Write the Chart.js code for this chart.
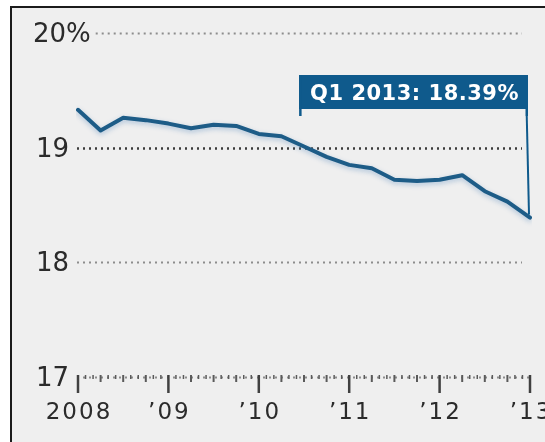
<!DOCTYPE html>
<html>
<head>
<meta charset="utf-8">
<script src="https://cdn.jsdelivr.net/npm/chart.js@4.4.1/dist/chart.umd.min.js"></script>
<style>
  html, body { margin: 0; padding: 0; background: #ffffff; }
  #frame { position: absolute; left: 10px; top: 6px; width: 535px; height: 436px; box-sizing: border-box;
           border-left: 2px solid #1b1b1b; border-top: 2px solid #1b1b1b; background: #efefef; }
  #c { position: absolute; left: 0; top: 0; }
</style>
</head>
<body>
<div id="frame"></div>
<canvas id="c" width="545" height="442"></canvas>
<script>
// ---- data ----
const quarters = ['Q1 2008','Q2 2008','Q3 2008','Q4 2008',
                  'Q1 2009','Q2 2009','Q3 2009','Q4 2009',
                  'Q1 2010','Q2 2010','Q3 2010','Q4 2010',
                  'Q1 2011','Q2 2011','Q3 2011','Q4 2011',
                  'Q1 2012','Q2 2012','Q3 2012','Q4 2012',
                  'Q1 2013'];
const rates = [19.33, 19.15, 19.26, 19.24,
               19.21, 19.17, 19.20, 19.19,
               19.12, 19.10, 19.01, 18.92,
               18.85, 18.82, 18.72, 18.71,
               18.72, 18.76, 18.62, 18.53,
               18.39];
const yearQuarters = ['Q1 2008','Q1 2009','Q1 2010','Q1 2011','Q1 2012','Q1 2013'];
const yearLabels = ['2008', '\u201909', '\u201910', '\u201911', '\u201912', '\u201913'];
const yTickValues = [17, 18, 19, 20];
const yTickLabels = ['17', '18', '19', '20%'];

const FONT = '"DejaVu Sans", "Liberation Sans", sans-serif';

const axisPlugin = {
  id: 'axisPlugin',
  beforeDatasetsDraw(chart) {
    const ctx = chart.ctx, ca = chart.chartArea;
    const xs = chart.scales.x, ys = chart.scales.y;
    ctx.save();
    // y labels + dotted grid lines
    ctx.font = '26px ' + FONT;
    ctx.textBaseline = 'alphabetic';
    ctx.textAlign = 'left';
    yTickValues.forEach((v, i) => {
      const y = ys.getPixelForValue(v);
      const lab = yTickLabels[i];
      const numW = ctx.measureText(lab.replace('%', '')).width;
      const x0 = ca.left - 9 - numW - (lab.indexOf('%') >= 0 ? 3 : 0);
      ctx.fillStyle = '#2b2b2b';
      ctx.fillText(lab, x0, y + 9);
      const labEnd = x0 + ctx.measureText(lab).width;
      const gx0 = Math.max(ca.left - 1, labEnd + 5);
      ctx.beginPath();
      ctx.setLineDash([2, 4]);
      ctx.lineWidth = v === 19 ? 2.6 : 2;
      ctx.strokeStyle = v === 19 ? '#3c3c3c' : '#8d8d8d';
      const gx1 = v === 17 ? ca.right : ca.right - 8;
      ctx.moveTo(gx0, Math.round(y) + 0.5);
      ctx.lineTo(gx1, Math.round(y) + 0.5);
      ctx.stroke();
    });
    ctx.setLineDash([]);
    // x ticks
    const yBase = ys.getPixelForValue(17);
    const yearIdx = yearQuarters.map(q => quarters.indexOf(q));
    yearIdx.forEach((qi, k) => {
      const x = xs.getPixelForValue(qi);
      ctx.beginPath();
      ctx.lineWidth = 2.5;
      ctx.strokeStyle = '#404040';
      ctx.moveTo(x, yBase - 2);
      ctx.lineTo(x, yBase + 16);
      ctx.stroke();
      if (k < yearIdx.length - 1) {
        for (let m = 1; m < 12; m++) {
          const xm = xs.getPixelForValue(qi + m / 3);
          const len = (m % 3 === 0) ? 7 : 4;
          ctx.beginPath();
          ctx.lineWidth = (m % 3 === 0) ? 2 : 1.5;
          ctx.strokeStyle = '#5a5a5a';
          ctx.moveTo(xm, yBase - 2);
          ctx.lineTo(xm, yBase - 2 + len);
          ctx.stroke();
        }
      }
      // year label
      ctx.font = '23px ' + FONT;
      ctx.letterSpacing = '2px';
      ctx.textAlign = 'center';
      ctx.fillStyle = '#2b2b2b';
      ctx.fillText(yearLabels[k], x + 1, yBase + 42);
      ctx.letterSpacing = '0px';
    });
    ctx.restore();
  },
  beforeDatasetDraw(chart) {
    const ctx = chart.ctx;
    ctx.save();
    ctx.shadowColor = 'rgba(90,140,190,0.45)';
    ctx.shadowBlur = 5;
    ctx.shadowOffsetY = 2;
  },
  afterDatasetDraw(chart) {
    chart.ctx.restore();
  },
  afterDatasetsDraw(chart) {
    const ctx = chart.ctx, ca = chart.chartArea;
    const meta = chart.getDatasetMeta(0);
    const li = rates.length - 1;
    const pt = meta.data[li];
    const text = quarters[li] + ': ' + rates[li].toFixed(2) + '%';
    ctx.save();
    ctx.font = 'bold 21px ' + FONT;
    ctx.letterSpacing = '0.5px';
    const tw = ctx.measureText(text).width;
    const boxR = pt.x - 2;
    const boxL = boxR - tw - 20;
    const boxT = ca.top + 42;
    const fillH = 34;
    const boxB = boxT + 41;
    const blue = '#0f5a8c';
    ctx.fillStyle = blue;
    ctx.fillRect(boxL, boxT, boxR - boxL, fillH);
    ctx.strokeStyle = blue;
    ctx.lineWidth = 2.5;
    ctx.beginPath();
    ctx.moveTo(boxL + 1.25, boxT);
    ctx.lineTo(boxL + 1.25, boxB);
    ctx.moveTo(boxR - 1.25, boxT);
    ctx.lineTo(boxR - 1.25, boxB);
    ctx.stroke();
    ctx.lineWidth = 2;
    ctx.beginPath();
    ctx.moveTo(boxR - 1.25, boxB);
    ctx.lineTo(pt.x - 1, pt.y - 3);
    ctx.stroke();
    ctx.fillStyle = '#ffffff';
    ctx.textAlign = 'center';
    ctx.textBaseline = 'alphabetic';
    ctx.fillText(text, (boxL + boxR) / 2 + 1, boxT + 25);
    ctx.restore();
  }
};

new Chart(document.getElementById('c').getContext('2d'), {
  type: 'line',
  data: {
    labels: quarters,
    datasets: [{
      data: rates,
      borderColor: '#1d5c87',
      borderWidth: 4,
      pointRadius: 0,
      tension: 0,
      fill: false,
      borderJoinStyle: 'round',
      borderCapStyle: 'round'
    }]
  },
  options: {
    responsive: false,
    animation: false,
    events: [],
    layout: { padding: { left: 78, right: 15, top: 33, bottom: 65 } },
    plugins: { legend: { display: false }, tooltip: { enabled: false } },
    scales: {
      x: { type: 'category', display: false, offset: false },
      y: { min: 17, max: 20, display: false }
    }
  },
  plugins: [axisPlugin]
});
</script>
</body>
</html>
